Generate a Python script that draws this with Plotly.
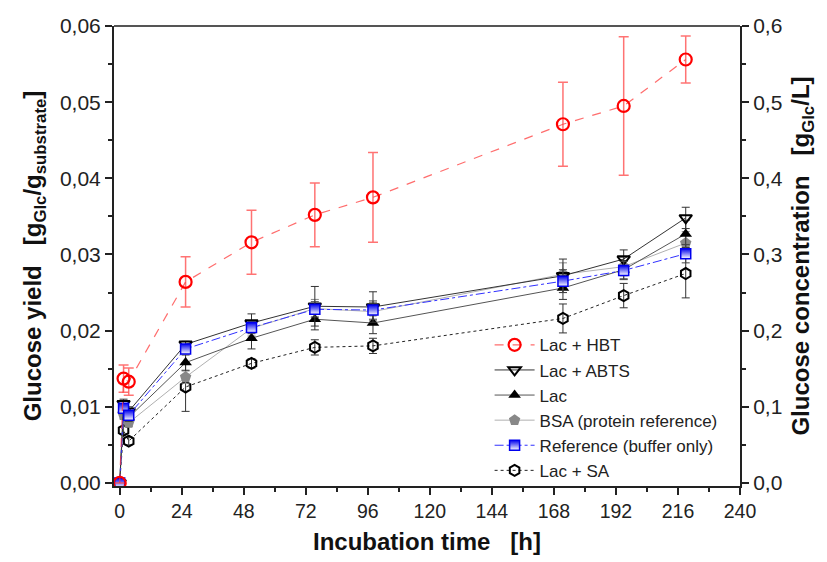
import plotly.graph_objects as go

# Sampling times (h)
time_h = [0, 1.5, 3.5, 25.5, 51, 75.5, 98, 171.5, 195, 219]

# Glucose yield [g_Glc / g_substrate] and standard deviations
lac_hbt = [0, 0.0137, 0.0133, 0.0264, 0.0316, 0.0352, 0.0375, 0.0471, 0.0495, 0.0556]
lac_hbt_err = [0, 0.0018, 0.0018, 0.0033, 0.0042, 0.0042, 0.0059, 0.0055, 0.0091, 0.0031]

lac_abts = [0, 0.0104, 0.0094, 0.0182, 0.0210, 0.0232, 0.0231, 0.0272, 0.0294, 0.0348]
lac_abts_err = [0, 0.0006, 0.0006, 0.0004, 0.0012, 0.0026, 0.0020, 0.0022, 0.0012, 0.0014]

lac = [0, 0.0096, 0.0086, 0.0158, 0.0190, 0.0215, 0.0210, 0.0256, 0.0280, 0.0327]
lac_err = [0, 0.0005, 0.0005, 0.0010, 0.0014, 0.0014, 0.0014, 0.0015, 0.0012, 0.0018]

bsa = [0, 0.0089, 0.0079, 0.0139, 0.0203, 0.0229, 0.0225, 0.0274, 0.0284, 0.0315]
bsa_err = [0, 0.0005, 0.0005, 0.0008, 0.0010, 0.0012, 0.0012, 0.0015, 0.0012, 0.0015]

reference = [0, 0.0098, 0.0089, 0.0176, 0.0204, 0.0228, 0.0227, 0.0265, 0.0279, 0.0301]
reference_err = [0, 0.0005, 0.0005, 0.0005, 0.0008, 0.0010, 0.0012, 0.0015, 0.0012, 0.0012]

lac_sa = [0, 0.0069, 0.0055, 0.0126, 0.0157, 0.0178, 0.0180, 0.0216, 0.0246, 0.0275]
lac_sa_err = [0, 0.0005, 0.0005, 0.0032, 0.0006, 0.0010, 0.0010, 0.0019, 0.0016, 0.0032]

x_ticks = [0, 24, 48, 72, 96, 120, 144, 168, 192, 216, 240]

FONT = "Liberation Sans, Arial, sans-serif"
TITLE_FONT = dict(family=FONT, size=24, color="#111111", weight="bold")

fig = go.Figure()


def add_series(name, y, err, rank, line, marker, err_color, err_width=1, err_cap=4):
    fig.add_trace(go.Scatter(
        x=time_h, y=y, name=name, mode="lines+markers",
        legendrank=rank, line=line, marker=marker,
        error_y=dict(type="data", array=err, visible=True,
                     color=err_color, thickness=err_width, width=err_cap),
    ))


# drawn bottom-up so the red series sits on top
add_series("Lac + SA", lac_sa, lac_sa_err, 6,
           dict(color="#222222", width=1, dash="dot"),
           dict(symbol="hexagon-open", size=11, color="black", line=dict(width=2, color="black")),
           "#333333")
add_series("BSA (protein reference)", bsa, bsa_err, 4,
           dict(color="#b0b0b0", width=1),
           dict(symbol="pentagon", size=12, color="#888888", line=dict(width=0)),
           "#888888")
add_series("Lac", lac, lac_err, 3,
           dict(color="#555555", width=1),
           dict(symbol="triangle-up", size=11, color="black", line=dict(width=0)),
           "#333333")
add_series("Lac + ABTS", lac_abts, lac_abts_err, 2,
           dict(color="#333333", width=1),
           dict(symbol="triangle-down-open", size=11, color="black", line=dict(width=2, color="black")),
           "#333333")
add_series("Reference (buffer only)", reference, reference_err, 5,
           dict(color="#3030ff", width=1, dash="dashdot"),
           dict(symbol="square", size=10, color="#0000ee",
                gradient=dict(type="vertical", color="white"),
                line=dict(width=1.5, color="#0000ee")),
           "#444444")
add_series("Lac + HBT", lac_hbt, lac_hbt_err, 1,
           dict(color="rgba(255,60,60,0.75)", width=1.2, dash="dash"),
           dict(symbol="circle-open", size=12, color="#ff0000", line=dict(width=2.2, color="#ff0000")),
           "rgba(255,80,80,0.8)", 1.5, 5)

# Glucose concentration on the secondary axis (1 g/g yield = 10 g/L)
fig.add_trace(go.Scatter(
    x=time_h, y=[v * 10 for v in lac_hbt], yaxis="y2", mode="lines",
    line=dict(width=0), opacity=0, showlegend=False, hoverinfo="skip",
))

axis_common = dict(showline=True, linecolor="#222222", linewidth=2,
                   ticks="outside", tickcolor="#222222", tickwidth=1.5, ticklen=7,
                   showgrid=False, zeroline=False)
x_tickfont = dict(family=FONT, size=19.5, color="#222222")
y_tickfont = dict(family=FONT, size=21, color="#222222")

fig.update_layout(
    width=827, height=562,
    margin=dict(l=114, r=87, t=26, b=76),
    paper_bgcolor="white", plot_bgcolor="white",
    separators=", ",
    font=dict(family=FONT, color="#222222"),
    showlegend=True,
    legend=dict(x=0.6, y=0.345, xanchor="left", yanchor="top",
                bgcolor="rgba(0,0,0,0)", borderwidth=0,
                font=dict(family=FONT, size=17, color="#222222"),
                itemwidth=40, tracegroupgap=0),
    xaxis=dict(range=[-2.2, 240], tickvals=x_ticks, ticktext=[str(t) for t in x_ticks],
               tickfont=x_tickfont,
               minor=dict(dtick=12, tick0=0, ticks="outside", ticklen=4, tickcolor="#222222"),
               title=dict(text="Incubation time   [h]", standoff=12, font=TITLE_FONT),
               **axis_common),
    yaxis=dict(range=[-0.0004, 0.06], dtick=0.01, tick0=0, tickformat=".2f",
               tickfont=y_tickfont,
               minor=dict(dtick=0.005, ticks="outside", ticklen=4, tickcolor="#222222"),
               title=dict(text="Glucose yield   [g<sub>Glc</sub>/g<sub>substrate</sub>]",
                          standoff=12, font=TITLE_FONT),
               **axis_common),
    yaxis2=dict(range=[-0.004, 0.6], dtick=0.1, tick0=0, tickformat=".1f",
                overlaying="y", side="right", anchor="x",
                tickfont=y_tickfont,
                minor=dict(dtick=0.05, ticks="outside", ticklen=4, tickcolor="#222222"),
                title=dict(text="Glucose concentration   [g<sub>Glc</sub>/L]",
                           standoff=10, font=TITLE_FONT),
                **axis_common),
    shapes=[dict(type="line", xref="paper", yref="paper", x0=0, x1=1, y0=1, y1=1,
                 line=dict(color="#555555", width=2))],
)

fig.write_html("out.html")
